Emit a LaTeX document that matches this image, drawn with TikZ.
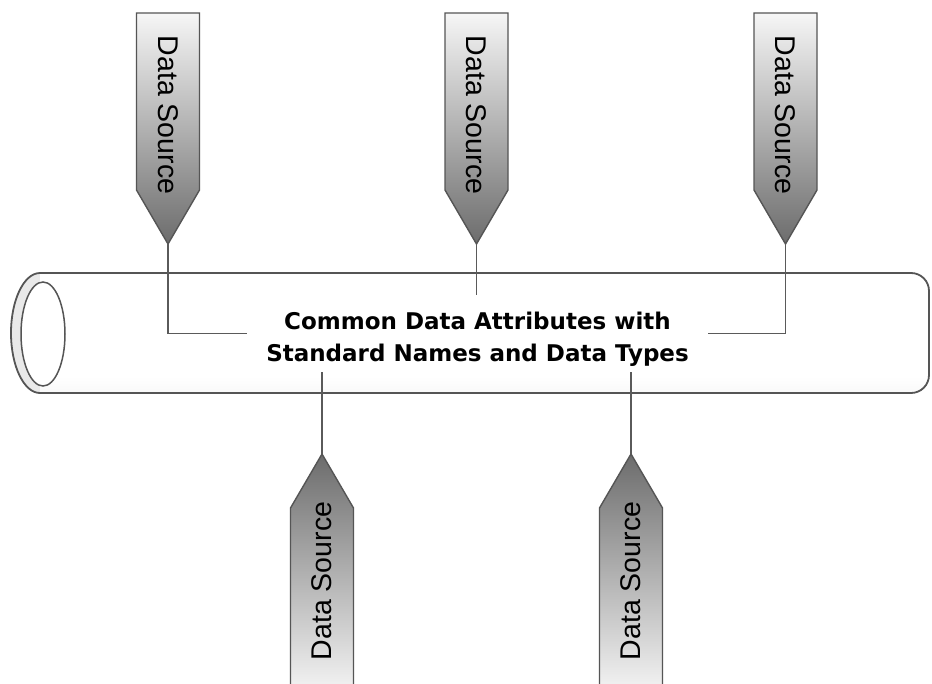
\documentclass[tikz,border=0pt]{standalone}
\usepackage{fontspec}
\setmainfont{Liberation Sans}
\newfontfamily\poolfont{DejaVu Sans}
\definecolor{edge}{HTML}{555555}
\definecolor{wirecol}{HTML}{5A5A5A}
\definecolor{tagLight}{HTML}{F6F6F6}
\definecolor{tagDark}{HTML}{6C6C6C}
\definecolor{ringfill}{HTML}{E9E9E9}
\definecolor{pipeA}{HTML}{B4B4B4}
\definecolor{pipeB}{HTML}{D6D6D6}
\definecolor{pipeC}{HTML}{DCDCDC}
\definecolor{pipeD}{HTML}{ACACAC}
% vertical shading of the pipe body, listed from bottom to top
\pgfdeclareverticalshading{pipeshade}{100bp}{
  color(0bp)=(pipeD); color(7bp)=(pipeC); color(20bp)=(pipeC!30!white);
  color(32bp)=(white); color(74bp)=(white); color(90bp)=(pipeB); color(100bp)=(pipeA)}
\tikzset{
  tagbody/.style={draw=edge, line width=1.4pt, line join=miter},
  tagtext/.style={font=\fontsize{28.5}{30}\selectfont, text=black, inner sep=0pt},
  wire/.style={draw=wirecol, line width=1.3pt},
  namebox/.style={fill=white, minimum width=461pt, minimum height=77pt,
    align=center, inner sep=0pt,
    font=\poolfont\bfseries\fontsize{23}{32}\selectfont},
  % source tag hanging above the pipe, point downwards
  toptag/.pic={
    \path[tagbody, top color=tagLight, bottom color=tagDark]
      (-31.5,13) -- (31.5,13) -- (31.5,190) -- (0,244) -- (-31.5,190) -- cycle;
    \node[tagtext, rotate=-90] (-text) at (0,115) {Data Source};
    \coordinate (-tip) at (0,244);
  },
  % source tag standing below the pipe, point upwards
  bottag/.pic={
    \path[tagbody, top color=tagDark, bottom color=tagLight]
      (-31.5,695) -- (-31.5,508) -- (0,454) -- (31.5,508) -- (31.5,695) -- cycle;
    \node[tagtext, rotate=90] (-text) at (0,581) {Data Source};
    \coordinate (-tip) at (0,454);
  },
}
\begin{document}
\begin{tikzpicture}[x=1pt,y=-1pt]
\useasboundingbox[fill=white] (0,0) rectangle (932,683);
\clip (0,0) rectangle (932,683);

% pipe: open end ring, body, inner opening
\path[fill=ringfill, draw=edge, line width=1.8pt] (40,333) ellipse [x radius=29, y radius=60];
\shade[shading=pipeshade]
  (40,273) -- (911,273) .. controls (921,273) and (929,281) .. (929,291)
  -- (929,375) .. controls (929,385) and (921,393) .. (911,393) -- (40,393) -- cycle;
\draw[edge, line width=1.8pt]
  (40,273) -- (911,273) .. controls (921,273) and (929,281) .. (929,291)
  -- (929,375) .. controls (929,385) and (921,393) .. (911,393) -- (40,393);
\path[fill=white, draw=edge, line width=1.5pt] (43,334) ellipse [x radius=22, y radius=52];

% shared attribute store
\node[namebox] (pool) at (477.5,333.5)
  {\rule{0pt}{29pt}Common Data Attributes with\\Standard Names and Data Types};

% data sources
\pic (t1) at (168,0) {toptag};
\pic (t2) at (476.5,0) {toptag};
\pic (t3) at (785.5,0) {toptag};
\pic (b1) at (322,0) {bottag};
\pic (b2) at (631,0) {bottag};

% links into the store
\draw[wire] (t1-tip) |- (pool.west);
\draw[wire] (t2-tip) -- (t2-tip |- pool.north);
\draw[wire] (t3-tip) |- (pool.east);
\draw[wire] (pool.south -| b1-tip) -- (b1-tip);
\draw[wire] (pool.south -| b2-tip) -- (b2-tip);
\end{tikzpicture}
\end{document}
